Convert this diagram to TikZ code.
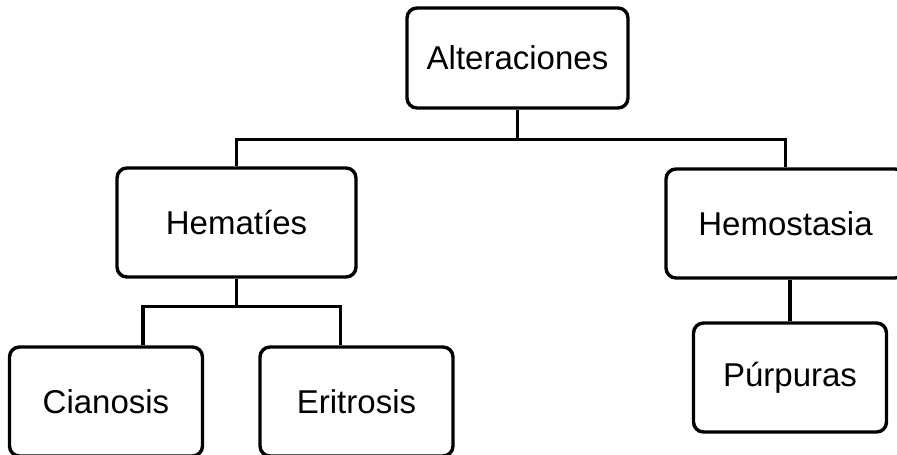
\documentclass[tikz,border=0pt]{standalone}
\usepackage{fontspec}
\setmainfont{Liberation Sans}
\usetikzlibrary{positioning,calc}
\tikzset{
  box/.style={draw,line width=1.7pt,rounded corners=5pt,fill=white,align=center,font=\fontsize{16.5}{19}\selectfont},
  bigbox/.style={box,minimum width=119.5pt,minimum height=54.5pt},
  smallbox/.style={box,minimum width=96.5pt,minimum height=54.5pt},
  link/.style={draw,line width=1.7pt}
}
\begin{document}
\begin{tikzpicture}[x=0.5pt,y=-0.5pt]
\clip (0,0) rectangle (897,454);
% tree
\node[box,minimum width=110.5pt,minimum height=50pt,text depth=0pt] (alt) at (517.5,58) {Alteraciones};
\node[bigbox] (hema) at (236.5,222.5) {Hematíes};
\node[bigbox] (hemo) at (785.5,223.5) {Hemostasia};
\node[smallbox] (cia) at (106,401.5) {Cianosis};
\node[smallbox] (eri) at (356.5,401.5) {Eritrosis};
\node[smallbox] (pur) at (790,377.5) {Púrpuras};
% connectors
\draw[link] (alt.south) -- ++(0,30) coordinate (altbus);
\draw[link] (hema.north) |- (altbus) -| (hemo.north);
\draw[link] (hema.south) -- ++(0,28) coordinate (hemabus);
\draw[link] ($(cia.north)+(37,0)$) |- (hemabus) -| ($(eri.north)+(-16,0)$);
\draw[link] (pur.north) -- (pur.north |- hemo.south);
\end{tikzpicture}
\end{document}
